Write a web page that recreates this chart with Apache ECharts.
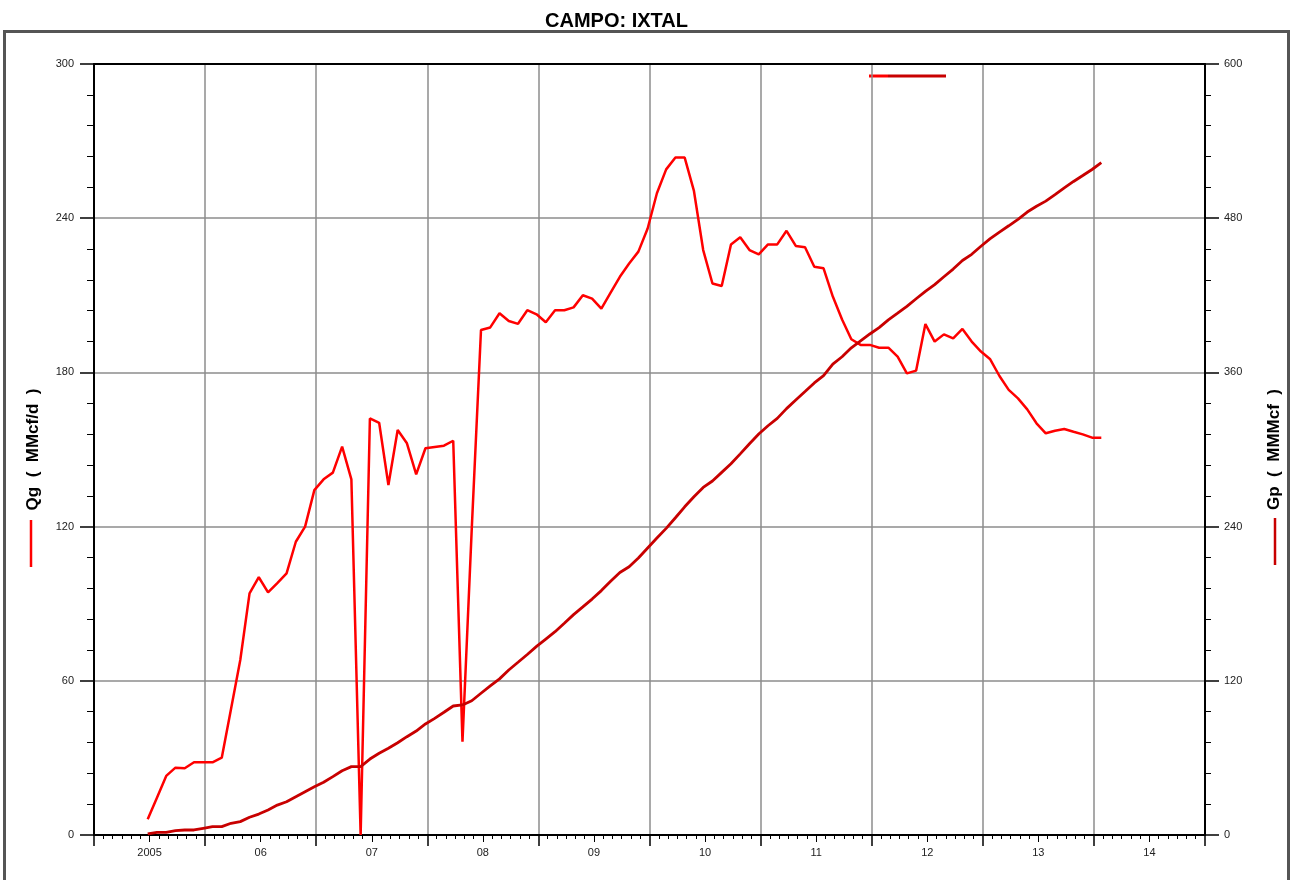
<!DOCTYPE html>
<html>
<head>
<meta charset="utf-8">
<script src="https://cdn.jsdelivr.net/npm/echarts@6/dist/echarts.min.js"></script>
<style>
html,body{margin:0;padding:0;background:#fff;}
#main{width:1291px;height:880px;}
</style>
</head>
<body>
<div id="main"></div>
<script>
// ---- Data (monthly, starting June 2005) ----
const startYear = 2005;
const startMonth = 6; // June
const yearLabels = ['2005','06','07','08','09','10','11','12','13','14'];
const leftTicks = [0, 60, 120, 180, 240, 300];
const rightTicks = [0, 120, 240, 360, 480, 600];

// Qg (MMcf/d), monthly
const qg = [
  6.1, 14.5, 23.0, 26.2, 26.0, 28.3, 28.3, 28.3, 30.1, 49.0,
  68.1, 94.0, 100.3, 94.4, 98.0, 101.8, 114.1, 120.0, 134.2, 138.4,
  141.0, 151.1, 138.4, 0.0, 162.1, 160.4, 136.2, 157.6, 152.4, 140.3,
  150.5, 151.0, 151.5, 153.4, 36.3, 119.0, 196.5, 197.5, 203.0, 200.0,
  198.9, 204.2, 202.6, 199.5, 204.2, 204.2, 205.3, 210.0, 208.7, 204.8,
  211.0, 217.2, 222.4, 227.0, 236.0, 249.7, 259.0, 263.6, 263.6, 250.6,
  227.6, 214.6, 213.6, 229.8, 232.6, 227.6, 225.9, 229.8, 229.8, 235.1,
  229.2, 228.7, 221.1, 220.5, 209.5, 200.6, 192.9, 190.7, 190.7, 189.6,
  189.6, 186.1, 179.6, 180.7, 198.8, 192.0, 194.8, 193.2, 196.9, 192.0,
  188.1, 185.1, 178.6, 173.2, 169.9, 165.6, 160.2, 156.3, 157.3, 158.0,
  156.9, 155.9, 154.6, 154.6
];

// Gp (MMMcf), cumulative, monthly
const gp = [
  0.8, 2.1, 2.1, 3.4, 3.9, 3.9, 5.2, 6.5, 6.5, 9.1,
  10.4, 13.8, 16.3, 19.5, 23.3, 25.9, 29.8, 33.7, 37.6, 41.0,
  45.4, 50.0, 53.2, 53.2, 59.1, 63.6, 67.5, 71.8, 76.5, 80.9,
  86.4, 90.8, 95.5, 100.4, 101.2, 104.5, 110.3, 116.0, 121.5, 128.4,
  134.4, 140.5, 146.8, 152.5, 158.2, 164.8, 171.5, 177.5, 183.6, 190.2,
  197.5, 204.3, 208.8, 215.6, 223.4, 231.1, 238.6, 246.9, 255.4, 263.2,
  270.5, 275.5, 282.2, 288.9, 296.6, 304.5, 312.0, 318.5, 324.2, 331.8,
  338.5, 345.1, 351.8, 357.5, 366.5, 372.2, 379.1, 384.5, 389.9, 394.9,
  400.9, 406.1, 411.4, 417.3, 423.1, 428.3, 434.4, 440.4, 447.1, 451.9,
  458.2, 464.1, 469.2, 474.1, 479.1, 484.8, 489.3, 493.3, 498.3, 503.6,
  508.6, 513.2, 517.9, 523.2
];

// each monthly value is plotted near the end of its month (day ~24)
const monthPos = 0.8;
function t(i) { return startYear + (startMonth - 1 + i + monthPos) / 12; }
const qgData = qg.map((v, i) => [t(i), v]);
const gpData = gp.map((v, i) => [t(i), v]);

const xMin = startYear;
const xMax = startYear + yearLabels.length;
const midYears = yearLabels.map((_, i) => startYear + i + 0.5);

const FONT = 'Liberation Sans, Arial, sans-serif';
const QG_COLOR = '#ff0000';
const GP_COLOR = '#c80000';

const chart = echarts.init(document.getElementById('main'), null, {renderer: 'canvas'});
const option = {
  animation: false,
  backgroundColor: '#fff',
  textStyle: {fontFamily: FONT},
  title: {
    text: 'CAMPO: IXTAL',
    left: 540, top: 6,
    textStyle: {fontFamily: FONT, fontSize: 20, fontWeight: 'bold', color: '#000'}
  },
  grid: {left: 94, right: 83, top: 64, bottom: 45, containLabel: false},
  xAxis: [
    {
      type: 'value', position: 'bottom', min: xMin, max: xMax, interval: 1,
      axisLine: {show: true, onZero: false, lineStyle: {color: '#000', width: 2}},
      axisTick: {show: true, length: 11, lineStyle: {color: '#000', width: 1.5}},
      minorTick: {show: true, splitNumber: 12, length: 4, lineStyle: {color: '#000', width: 1}},
      axisLabel: {show: false},
      splitLine: {show: true, lineStyle: {color: '#8c8c8c', width: 1.5}}
    },
    {
      type: 'value', position: 'bottom', min: xMin, max: xMax,
      axisLine: {show: false, onZero: false},
      axisTick: {show: true, customValues: midYears, length: 7, lineStyle: {color: '#000', width: 1}},
      axisLabel: {
        show: true, customValues: midYears, margin: 12,
        fontFamily: FONT, fontSize: 11, color: '#222',
        formatter: function (v) { return yearLabels[Math.round(v - 0.5 - startYear)]; }
      },
      splitLine: {show: false}
    },
    {
      type: 'value', position: 'top', min: xMin, max: xMax, z: 5,
      axisLine: {show: true, onZero: false, lineStyle: {color: '#000', width: 2}},
      axisTick: {show: false}, axisLabel: {show: false}, splitLine: {show: false}
    }
  ],
  yAxis: [
    {
      type: 'value', position: 'left', min: leftTicks[0], max: leftTicks[leftTicks.length - 1],
      interval: leftTicks[1] - leftTicks[0],
      name: 'Qg  (  MMcf/d  )', nameLocation: 'middle', nameRotate: 90, nameGap: 52,
      nameTextStyle: {fontFamily: FONT, fontSize: 17, fontWeight: 'bold', color: '#000'},
      axisLine: {show: true, onZero: false, lineStyle: {color: '#000', width: 2}},
      axisTick: {show: true, length: 14, lineStyle: {color: '#000', width: 1.5}},
      minorTick: {show: true, splitNumber: 5, length: 7, lineStyle: {color: '#000', width: 1}},
      axisLabel: {margin: 20, fontFamily: FONT, fontSize: 11, color: '#222'},
      splitLine: {show: true, lineStyle: {color: '#8c8c8c', width: 1.5}}
    },
    {
      type: 'value', position: 'right', min: rightTicks[0], max: rightTicks[rightTicks.length - 1],
      interval: rightTicks[1] - rightTicks[0],
      name: 'Gp  (  MMMcf  )', nameLocation: 'middle', nameRotate: 90, nameGap: 61,
      nameTextStyle: {fontFamily: FONT, fontSize: 17, fontWeight: 'bold', color: '#000'},
      axisLine: {show: true, onZero: false, lineStyle: {color: '#000', width: 2}},
      axisTick: {show: true, length: 14, lineStyle: {color: '#000', width: 1.5}},
      minorTick: {show: true, splitNumber: 5, length: 6, lineStyle: {color: '#000', width: 1}},
      axisLabel: {margin: 19, fontFamily: FONT, fontSize: 11, color: '#222'},
      splitLine: {show: false}
    }
  ],
  series: [
    {
      name: 'Qg', type: 'line', xAxisIndex: 0, yAxisIndex: 0, data: qgData,
      showSymbol: false, symbol: 'none', smooth: false,
      lineStyle: {color: QG_COLOR, width: 2.5}, itemStyle: {color: QG_COLOR}
    },
    {
      name: 'Gp', type: 'line', xAxisIndex: 0, yAxisIndex: 1, data: gpData,
      showSymbol: false, symbol: 'none', smooth: false,
      lineStyle: {color: GP_COLOR, width: 2.8}, itemStyle: {color: GP_COLOR}
    }
  ],
  graphic: [
    {type: 'rect', silent: true, z: 0,
     shape: {x: 4.5, y: 31.5, width: 1284, height: 900},
     style: {fill: null, stroke: '#555', lineWidth: 3}},
    // legend samples at the top
    {type: 'line', silent: true, shape: {x1: 888, y1: 76, x2: 946, y2: 76},
     style: {stroke: GP_COLOR, lineWidth: 3}},
    {type: 'line', silent: true, shape: {x1: 869, y1: 76, x2: 888, y2: 76},
     style: {stroke: QG_COLOR, lineWidth: 3}},
    // line samples beside axis names
    {type: 'line', silent: true, shape: {x1: 31, y1: 520, x2: 31, y2: 567},
     style: {stroke: QG_COLOR, lineWidth: 2.5}},
    {type: 'line', silent: true, shape: {x1: 1275, y1: 518, x2: 1275, y2: 565},
     style: {stroke: GP_COLOR, lineWidth: 2.5}}
  ]
};
chart.setOption(option);
</script>
</body>
</html>
